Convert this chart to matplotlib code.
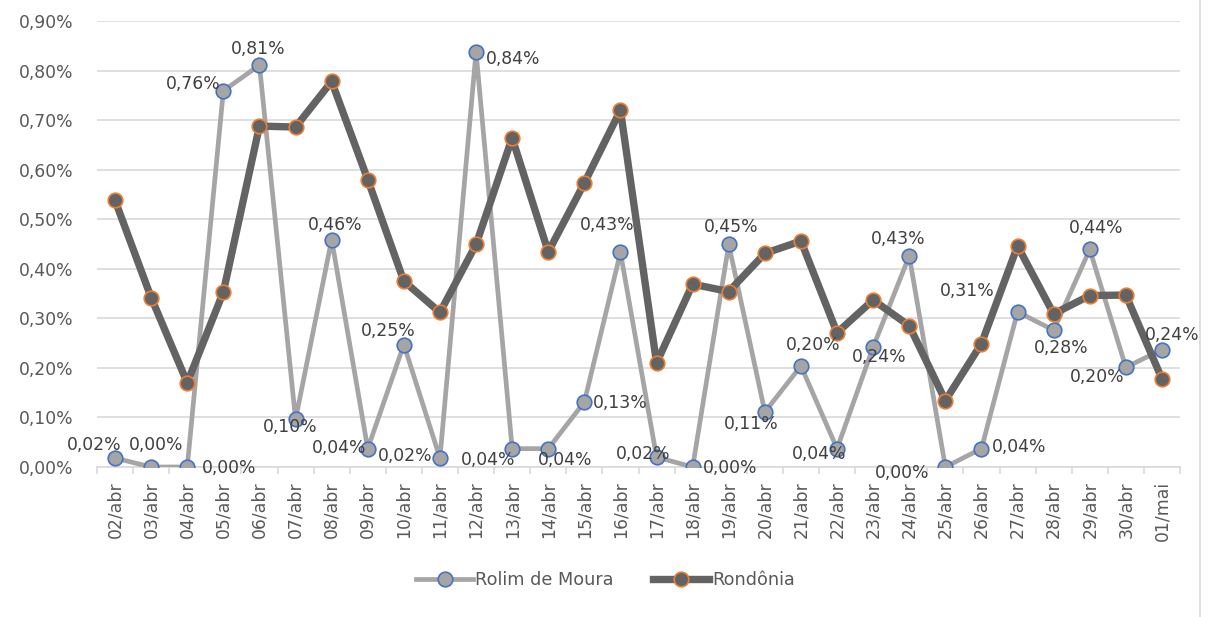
import numpy as np
import matplotlib.pyplot as plt
from matplotlib.lines import Line2D
from matplotlib.ticker import FuncFormatter, FixedLocator

plt.rcParams['font.family'] = ['DejaVu Sans']

# Dates (daily)
dias = ['02/abr', '03/abr', '04/abr', '05/abr', '06/abr', '07/abr', '08/abr', '09/abr',
        '10/abr', '11/abr', '12/abr', '13/abr', '14/abr', '15/abr', '16/abr', '17/abr',
        '18/abr', '19/abr', '20/abr', '21/abr', '22/abr', '23/abr', '24/abr', '25/abr',
        '26/abr', '27/abr', '28/abr', '29/abr', '30/abr', '01/mai']

# Values in %
rolim = [0.018, 0.0, 0.0, 0.759, 0.811, 0.096, 0.459, 0.037, 0.247, 0.018,
         0.838, 0.037, 0.037, 0.131, 0.433, 0.020, 0.0, 0.449, 0.111, 0.204,
         0.037, 0.242, 0.426, 0.0, 0.037, 0.313, 0.276, 0.439, 0.201, 0.237]
rondonia = [0.538, 0.342, 0.170, 0.353, 0.688, 0.686, 0.778, 0.580, 0.375, 0.312,
            0.449, 0.664, 0.434, 0.573, 0.720, 0.210, 0.369, 0.354, 0.431, 0.456,
            0.271, 0.337, 0.285, 0.134, 0.249, 0.446, 0.309, 0.346, 0.347, 0.178]

# label offsets for Rolim de Moura (pixels, x right / y down)
offs = [(-21, -13), (5, -22), (42, 1), (-30, -7), (-1, -16), (-5, 8), (4, -15), (-29, -1),
        (-16, -14), (-35, -2), (37, 7), (-24, 11), (17, 11), (36, 1), (-13, -27), (-13, -3),
        (37, 1), (2, -17), (-14, 12), (12, -21), (-18, 5), (6, 10), (-11, -17), (-43, 6),
        (38, -2), (-50, -21), (8, 18), (6, -21), (-29, 10), (10, -15)]

fs = 12.4

fig = plt.figure(figsize=(12.11, 6.17), dpi=100)
ax = fig.add_axes([97/1211, 1-467/617, (1180-97)/1211, (467-21)/617])

x = np.arange(len(dias))
ax.plot(x, rolim, color='#A5A5A5', lw=3.4, marker='o', ms=10.5,
        mfc='#A5A5A5', mec='#4472C4', mew=1.2, label='Rolim de Moura', zorder=3)
ax.plot(x, rondonia, color='#636363', lw=5.3, marker='o', ms=10.5,
        mfc='#636363', mec='#ED7D31', mew=1.2, label='Rondônia', zorder=4)

for i, v in enumerate(rolim):
    dx, dy = offs[i]
    ax.annotate(f'{v:.2f}%'.replace('.', ','), (x[i], v), xytext=(dx, -dy),
                textcoords='offset pixels', ha='center', va='center',
                fontsize=fs, color='#404040', zorder=5)

ax.set_xlim(-0.5, len(dias) - 0.5)
ax.set_ylim(0, 0.9)
ax.set_yticks(np.arange(0, 0.91, 0.1))
ax.yaxis.set_major_formatter(FuncFormatter(lambda v, p: f'{v:.2f}%'.replace('.', ',')))
ax.grid(axis='y', color='#D9D9D9', lw=1.2)
ax.set_axisbelow(True)
for s in ['top', 'right', 'left']:
    ax.spines[s].set_visible(False)
ax.spines['bottom'].set_color('#D9D9D9')
ax.spines['bottom'].set_linewidth(1.2)

ax.set_xticks(x)
ax.set_xticklabels(dias, rotation=90, fontsize=fs, color='#595959')
ax.xaxis.set_minor_locator(FixedLocator(np.arange(-0.5, len(dias), 1)))
ax.tick_params(axis='x', which='major', length=0, pad=10)
ax.tick_params(axis='x', which='minor', length=5, color='#D9D9D9', width=1.2)
ax.tick_params(axis='y', length=0, labelsize=fs, labelcolor='#595959', pad=17)

leg = fig.legend(loc='center', bbox_to_anchor=(0.5, 1-580/617), ncol=2, frameon=False,
                 fontsize=fs + 0.3, handlelength=3.2, columnspacing=2.2, handletextpad=0.15)
for t in leg.get_texts():
    t.set_color('#595959')

# chart border on the right
fig.add_artist(Line2D([1200/1211, 1200/1211], [0, 1], color='#D9D9D9', lw=1.2))

fig.savefig('out.png', dpi=100)
